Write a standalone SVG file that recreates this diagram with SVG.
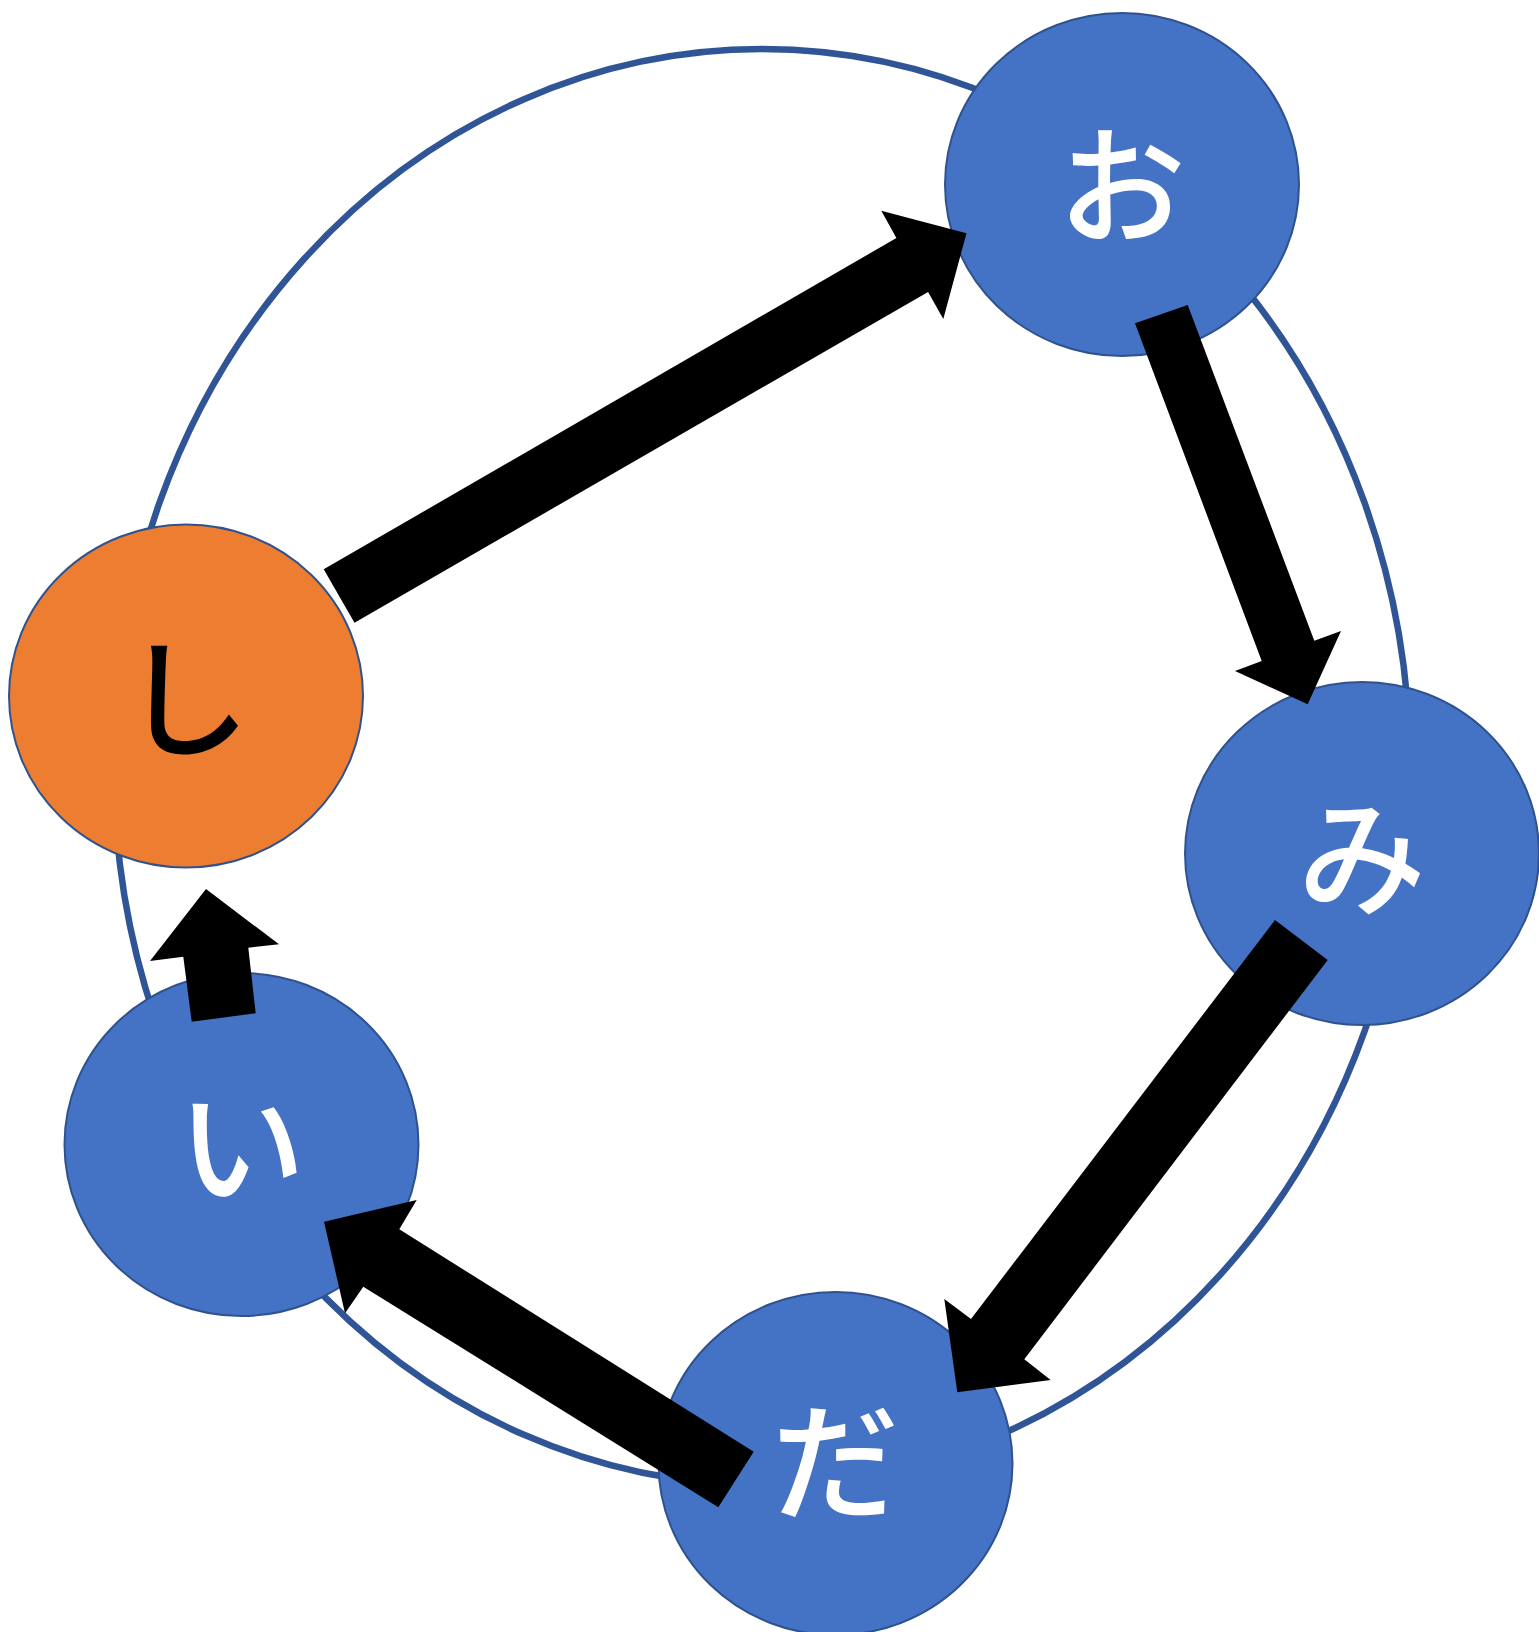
<svg xmlns="http://www.w3.org/2000/svg" width="1539" height="1632" viewBox="0 0 1539 1632">
<style>
.ring{fill:none;stroke:#2F5597;stroke-width:6.5}
.node{fill:#4472C4;stroke:#2F528F;stroke-width:2}
.start{fill:#ED7D31;stroke:#2F528F;stroke-width:2}
.lbl{font-family:"Noto Sans CJK JP","Noto Sans CJK SC",sans-serif;font-size:128px;font-weight:500;text-anchor:middle;fill:#FFFFFF}
.dark{fill:#000000}
.arrow{fill:#000000}
</style>
<rect x="0" y="0" width="1539" height="1632" fill="#FFFFFF"/>
<ellipse class="ring" cx="762" cy="767" rx="648" ry="718"/>
<g id="node-o"><ellipse class="node" cx="1122" cy="184.5" rx="177" ry="171.5"/><text class="lbl" x="1122" y="234">お</text></g>
<g id="node-mi"><ellipse class="node" cx="1362" cy="853.5" rx="177" ry="171.5"/><text class="lbl" x="1362" y="906">み</text></g>
<g id="node-da"><ellipse class="node" cx="835.5" cy="1463.5" rx="177" ry="171.5"/><text class="lbl" x="835.5" y="1510">だ</text></g>
<g id="node-i"><ellipse class="node" cx="241.5" cy="1144.5" rx="177" ry="171.5"/><text class="lbl" x="241.5" y="1195">い</text></g>
<g id="node-shi"><ellipse class="start" cx="186" cy="696" rx="177" ry="171.5"/><text class="lbl dark" x="186" y="747">し</text></g>
<g id="connectors">
<polygon class="arrow" points="323.7,569.3 354.5,622.7 928.1,292 943.3,319 966.5,233.3 881.3,210.7 896.4,238"/>
<polygon class="arrow" points="1135,323.3 1187.7,305 1314.3,640.7 1341,631 1307.7,704.3 1235,671 1261.7,661"/>
<polygon class="arrow" points="1275,920 1327.7,960 1024.3,1359.3 1050.7,1380 957.3,1392.3 944.3,1299 971,1319"/>
<polygon class="arrow" points="753.7,1451.7 718.3,1507.3 363.3,1286.7 345,1313.3 324,1221.7 416.7,1200 399.3,1229.3"/>
<polygon class="arrow" points="191.7,1021.7 255.7,1013.3 248.3,947.7 279,944.3 206,889 150,961 183.3,956.7"/>
</g>
</svg>
